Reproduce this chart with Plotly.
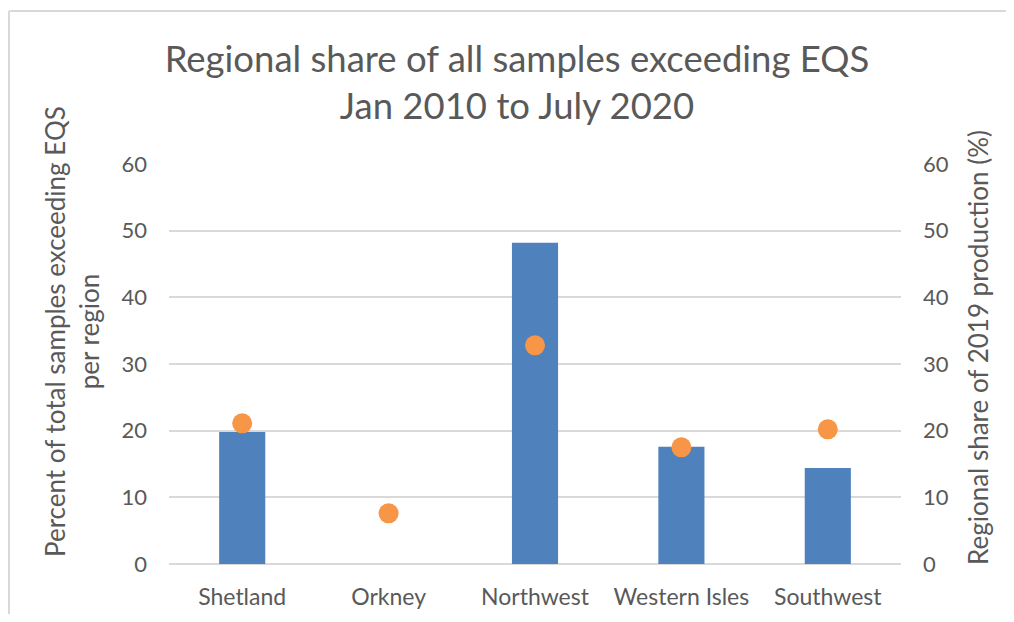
import plotly.graph_objects as go

regions = ["Shetland", "Orkney", "Northwest", "Western Isles", "Southwest"]
pct_exceeding = [19.8, 0, 48.2, 17.6, 14.4]
production_share = [21.1, 7.6, 32.8, 17.5, 20.2]
tick_vals = [0, 10, 20, 30, 40, 50, 60]

GRAY = "#595959"
FONT = "Lato"
# page is offset by the 8px default body margin; keep the figure inside the viewport
OFF = 8
W, H = 1014 - 2 * OFF, 622 - 2 * OFF
L, R, T, B = 161, 105, 156, 50
pw, ph = W - L - R, H - T - B


def px_x(px):
    return (px - OFF - L) / pw


def px_y(py):
    return (H - B - (py - OFF)) / ph


fig = go.Figure()
fig.add_trace(go.Bar(
    x=regions, y=pct_exceeding, marker=dict(color="#4f81bd", line=dict(width=0)),
    name="Percent of samples exceeding EQS", yaxis="y",
))
fig.add_trace(go.Scatter(
    x=regions, y=production_share, mode="markers",
    marker=dict(color="#f79646", size=20, line=dict(width=0)),
    name="Regional share of 2019 production", yaxis="y2",
))

fig.update_layout(
    width=W, height=H,
    margin=dict(l=L, r=R, t=T, b=B, autoexpand=False),
    paper_bgcolor="white", plot_bgcolor="white",
    showlegend=False,
    bargap=0.685,
    font=dict(family=FONT, color=GRAY),
    title=dict(
        text="Regional share of all samples exceeding EQS<br>Jan 2010 to July 2020",
        x=(517 - OFF) / W, xanchor="center", y=1 - (71.5 - OFF) / H, yanchor="middle",
        font=dict(family=FONT, size=36.5, color=GRAY),
    ),
    xaxis=dict(
        showgrid=False, showline=False, zeroline=False, automargin=False,
        tickfont=dict(family=FONT, size=23, color=GRAY),
        ticks="", ticklabelstandoff=17,
    ),
    yaxis=dict(
        range=[0, 60], tickvals=tick_vals, showgrid=True, automargin=False,
        gridcolor="#d9d9d9", gridwidth=1.5, zeroline=True, zerolinecolor="#d9d9d9",
        zerolinewidth=1.5, showline=False,
        tickfont=dict(family=FONT, size=22, color=GRAY), ticklabelstandoff=21,
    ),
    yaxis2=dict(
        range=[0, 60], tickvals=tick_vals, overlaying="y", side="right", automargin=False,
        showgrid=False, zeroline=False, showline=False,
        tickfont=dict(family=FONT, size=22, color=GRAY), ticklabelstandoff=21,
    ),
    annotations=[
        dict(text="Percent of total samples exceeding EQS<br>per region",
             xref="paper", yref="paper", x=px_x(72), y=px_y(332),
             xanchor="center", yanchor="middle", textangle=-90, showarrow=False,
             font=dict(family=FONT, size=26, color=GRAY)),
        dict(text="Regional share of 2019 production (%)",
             xref="paper", yref="paper", x=px_x(978), y=px_y(348),
             xanchor="center", yanchor="middle", textangle=-90, showarrow=False,
             font=dict(family=FONT, size=26, color=GRAY)),
    ],
    shapes=[
        dict(type="line", xref="paper", yref="paper",
             x0=px_x(9), x1=px_x(1030), y0=px_y(11), y1=px_y(11),
             line=dict(color="#d9d9d9", width=2), layer="below"),
        dict(type="line", xref="paper", yref="paper",
             x0=px_x(9), x1=px_x(9), y0=px_y(11), y1=px_y(640),
             line=dict(color="#d9d9d9", width=2), layer="below"),
    ],
)

fig.write_html("out.html")
